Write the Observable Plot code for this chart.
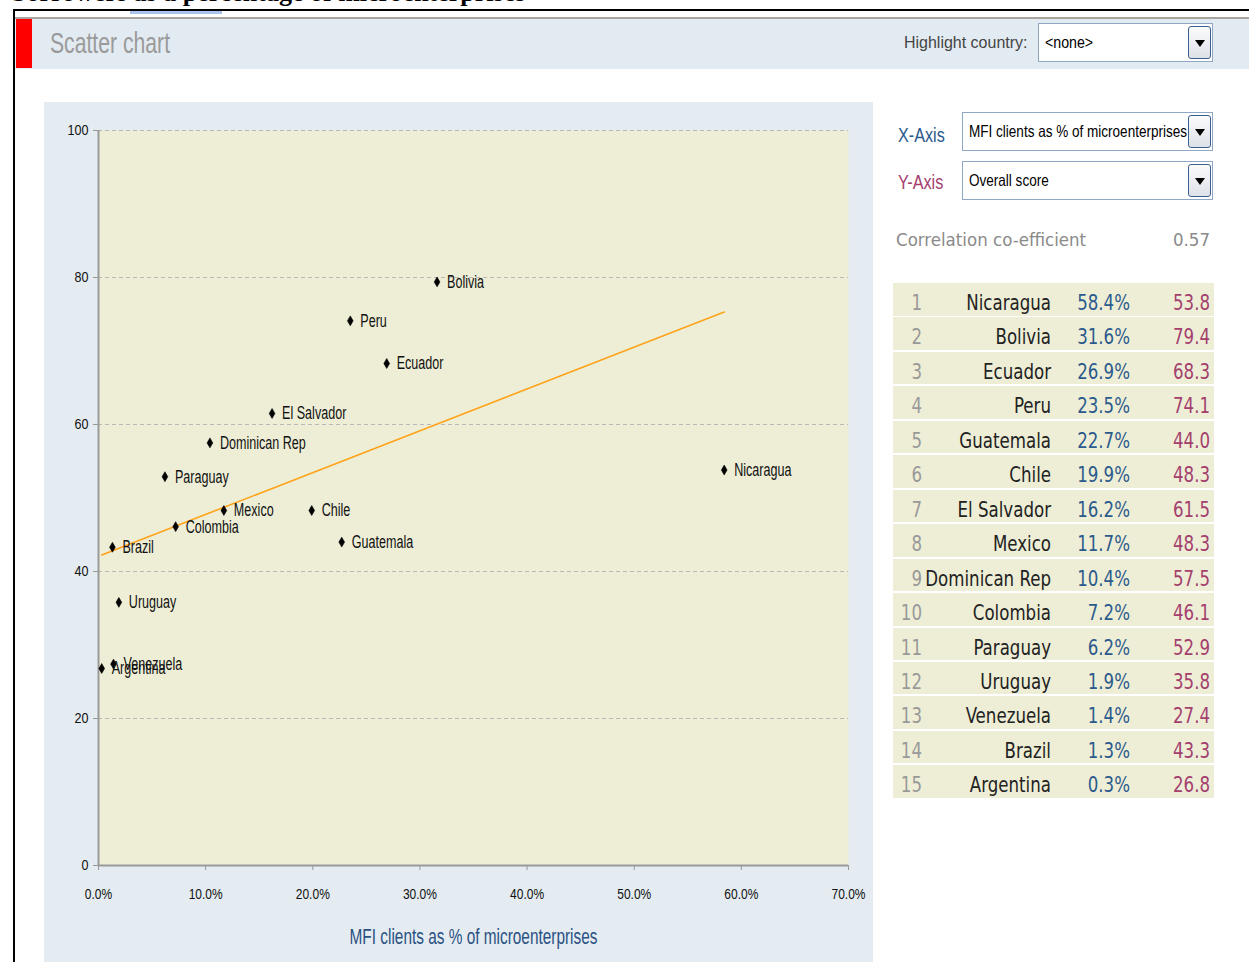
<!DOCTYPE html>
<html><head><meta charset="utf-8">
<script src="https://cdn.jsdelivr.net/npm/d3@7"></script>
<script src="https://cdn.jsdelivr.net/npm/@observablehq/plot@0.6"></script>
<style>
body{margin:0;width:1249px;height:962px;overflow:hidden;background:#fff;position:relative;font-family:"Liberation Sans",Arial,sans-serif}
.abs{position:absolute;white-space:nowrap}
.nar{font-family:"Liberation Sans",Arial,sans-serif;transform-origin:left center}
.sel{position:absolute;background:#fff;border:1px solid #8fa6c4;box-sizing:border-box}
.sel .txt{position:absolute;left:6px;top:0;bottom:0;display:flex;align-items:center;font-size:16.5px;color:#000;white-space:nowrap;transform-origin:left center}
.sel .btn{position:absolute;right:1px;top:2px;bottom:2px;width:23px;border:1px solid #3d5f8f;border-radius:3px;background:linear-gradient(#fbfbfb,#dde2e8);box-sizing:border-box}
.sel .btn:after{content:"";position:absolute;left:50%;top:50%;margin-left:-5px;margin-top:-3px;border-left:5px solid transparent;border-right:5px solid transparent;border-top:7px solid #000}
.row{position:absolute;left:0;width:321px;height:32.5px;background:#eeeed6;font-family:"DejaVu Sans Condensed","DejaVu Sans",sans-serif;font-size:18.5px}
.row span{position:absolute;top:4px;line-height:32.5px;white-space:nowrap;transform:scaleY(1.1)}
</style></head>
<body>
<div class="abs" style="left:12px;top:-22px;font:bold 26px 'Liberation Serif',serif;line-height:30px;color:#000">borrowers as a percentage of microenterprises</div>
<div class="abs" style="left:13px;top:9px;width:1236px;height:2px;background:#000"></div>
<div class="abs" style="left:13px;top:9px;width:2px;height:953px;background:#000"></div>
<div class="abs" style="left:130px;top:11px;width:92px;height:3px;background:#a9c5ee"></div>
<div class="abs" style="left:15px;top:17px;width:1234px;height:2px;background:#aaa59c"></div>
<div class="abs" style="left:15px;top:19px;width:1234px;height:50px;background:#e3ebf2"></div>
<div class="abs" style="left:16px;top:19px;width:16px;height:49px;background:#ff0000"></div>
<div class="abs nar" id="title" style="left:50px;top:26px;font-size:29px;line-height:34px;color:#9a9a9a;transform:scaleX(0.73)"></div>
<div class="abs nar" id="hl" style="left:904px;top:31px;font-size:17px;line-height:24px;color:#444;transform:scaleX(0.94)"></div>
<div class="sel" style="left:1038px;top:23px;width:175px;height:39px"><div class="txt" id="hlv" style="transform:scaleX(0.86)"></div><div class="btn"></div></div>
<div class="abs nar" id="xal" style="left:898px;top:122px;font-size:21px;line-height:26px;color:#2b5a8c;transform:scaleX(0.77)"></div>
<div class="abs nar" id="yal" style="left:898px;top:169px;font-size:21px;line-height:26px;color:#a3406e;transform:scaleX(0.77)"></div>
<div class="sel" style="left:962px;top:112px;width:251px;height:39px"><div class="txt" id="xsel" style="transform:scaleX(0.82)"></div><div class="btn"></div></div>
<div class="sel" style="left:962px;top:161px;width:251px;height:39px"><div class="txt" id="ysel" style="transform:scaleX(0.82)"></div><div class="btn"></div></div>
<div class="abs" id="corl" style="left:896px;top:228px;font-family:'DejaVu Sans Condensed','DejaVu Sans',sans-serif;font-size:18.5px;line-height:24px;color:#8a8a8a"></div>
<div class="abs" id="corv" style="right:39px;top:228px;font-family:'DejaVu Sans Condensed','DejaVu Sans',sans-serif;font-size:18.5px;line-height:24px;color:#8a8a8a"></div>
<div class="abs" id="table" style="left:893px;top:283px;width:321px;height:520px"></div>
<div class="abs" id="chart" style="left:44px;top:102px"></div>
<script>
// ---- data ----
const countries = ["Nicaragua","Bolivia","Ecuador","Peru","Guatemala","Chile","El Salvador","Mexico","Dominican Rep","Colombia","Paraguay","Uruguay","Venezuela","Brazil","Argentina"];
const mfiPct = [58.4,31.6,26.9,23.5,22.7,19.9,16.2,11.7,10.4,7.2,6.2,1.9,1.4,1.3,0.3];
const overallScore = [53.8,79.4,68.3,74.1,44.0,48.3,61.5,48.3,57.5,46.1,52.9,35.8,27.4,43.3,26.8];
const xTicks = [0,10,20,30,40,50,60,70];
const yTicks = [0,20,40,60,80,100];
const xAxisTitle = "MFI clients as % of microenterprises";
const yAxisTitle = "Overall score";
const correlationText = "0.57";
const panelTitle = "Scatter chart";
const highlightLabel = "Highlight country:";
const highlightValue = "<none>";

const FONT = '"Liberation Sans",Arial,sans-serif';

document.getElementById("title").textContent = panelTitle;
document.getElementById("hl").textContent = highlightLabel;
document.getElementById("hlv").textContent = highlightValue;
document.getElementById("xal").textContent = "X-Axis";
document.getElementById("yal").textContent = "Y-Axis";
document.getElementById("xsel").textContent = xAxisTitle;
document.getElementById("ysel").textContent = yAxisTitle;
document.getElementById("corl").textContent = "Correlation co-efficient";
document.getElementById("corv").textContent = correlationText;

// ---- table ----
const table = document.getElementById("table");
countries.forEach((c, i) => {
  const row = document.createElement("div");
  row.className = "row";
  row.style.top = (i * 34.45) + "px";
  const cells = [
    [String(i + 1), 292, "#999"],
    [c, 163, "#222"],
    [mfiPct[i].toFixed(1) + "%", 84, "#2b5a8c"],
    [overallScore[i].toFixed(1), 4, "#a3406e"]
  ];
  for (const [t, r, col] of cells) {
    const s = document.createElement("span");
    s.textContent = t; s.style.right = r + "px"; s.style.color = col;
    row.appendChild(s);
  }
  table.appendChild(row);
});

// ---- chart ----
const data = countries.map((c, i) => ({country: c, mfi: mfiPct[i], score: overallScore[i]}));
const chart = Plot.plot({
  width: 829, height: 860,
  marginLeft: 54, marginTop: 28, marginRight: 25, marginBottom: 97,
  style: {background: "#e4ecf2", fontFamily: FONT, fontSize: "15px", color: "#111", overflow: "visible"},
  x: {domain: [0, 70]},
  y: {domain: [0, 100]},
  marks: [
    Plot.frame({fill: "#eeeed6", stroke: "none"}),
    Plot.gridY(yTicks.filter(d => d > 0), {stroke: "#b8b8b8", strokeOpacity: 1, strokeDasharray: "4 3"}),
    Plot.ruleX([0], {stroke: "#999", strokeWidth: 2}),
    Plot.ruleY([0], {stroke: "#999", strokeWidth: 2}),
    Plot.axisY(yTicks, {tickSize: 5, tickPadding: 5, stroke: "#999", fill: "#111", label: null, fontSize: 15}),
    Plot.axisX(xTicks, {tickSize: 5, tickPadding: 18, stroke: "#999", fill: "#111", label: null, fontSize: 15, tickFormat: d => d.toFixed(1) + "%"}),
    Plot.text([xAxisTitle], {text: d => d, frameAnchor: "bottom", dy: 78, fill: "#2b5183", fontSize: 22}),
    Plot.linearRegressionY(data, {x: "mfi", y: "score", stroke: "#ffa31a", strokeWidth: 1.6, ci: 0}),
    Plot.dot(data, {x: "mfi", y: "score", symbol: "diamond", r: 3, fill: "#000", stroke: "#000", strokeWidth: 0.6}),
    Plot.text(data, {x: "mfi", y: "score", text: "country", textAnchor: "start", dx: 10, fontSize: 18.5, fill: "#111"})
  ]
});

// narrow the label faces (the reference uses a condensed face)
function condenseEls(els, sx) {
  els.forEach(t => {
    const x = t.getAttribute("x");
    const tr = t.getAttribute("transform") || "";
    if (x != null && x !== "") t.setAttribute("transform", `${tr} translate(${x},0) scale(${sx},1) translate(${-x},0)`);
    else t.setAttribute("transform", `${tr} scale(${sx},1)`);
  });
}
condenseEls(chart.querySelectorAll('g[aria-label="y-axis tick label"] text'), 0.84);
condenseEls(chart.querySelectorAll('g[aria-label="x-axis tick label"] text'), 0.8);
const textGroups = chart.querySelectorAll('g[aria-label="text"]');
if (textGroups[0]) condenseEls(textGroups[0].querySelectorAll("text"), 0.7);
if (textGroups[1]) condenseEls(textGroups[1].querySelectorAll("text"), 0.68);
document.getElementById("chart").appendChild(chart);
</script>
</body></html>
